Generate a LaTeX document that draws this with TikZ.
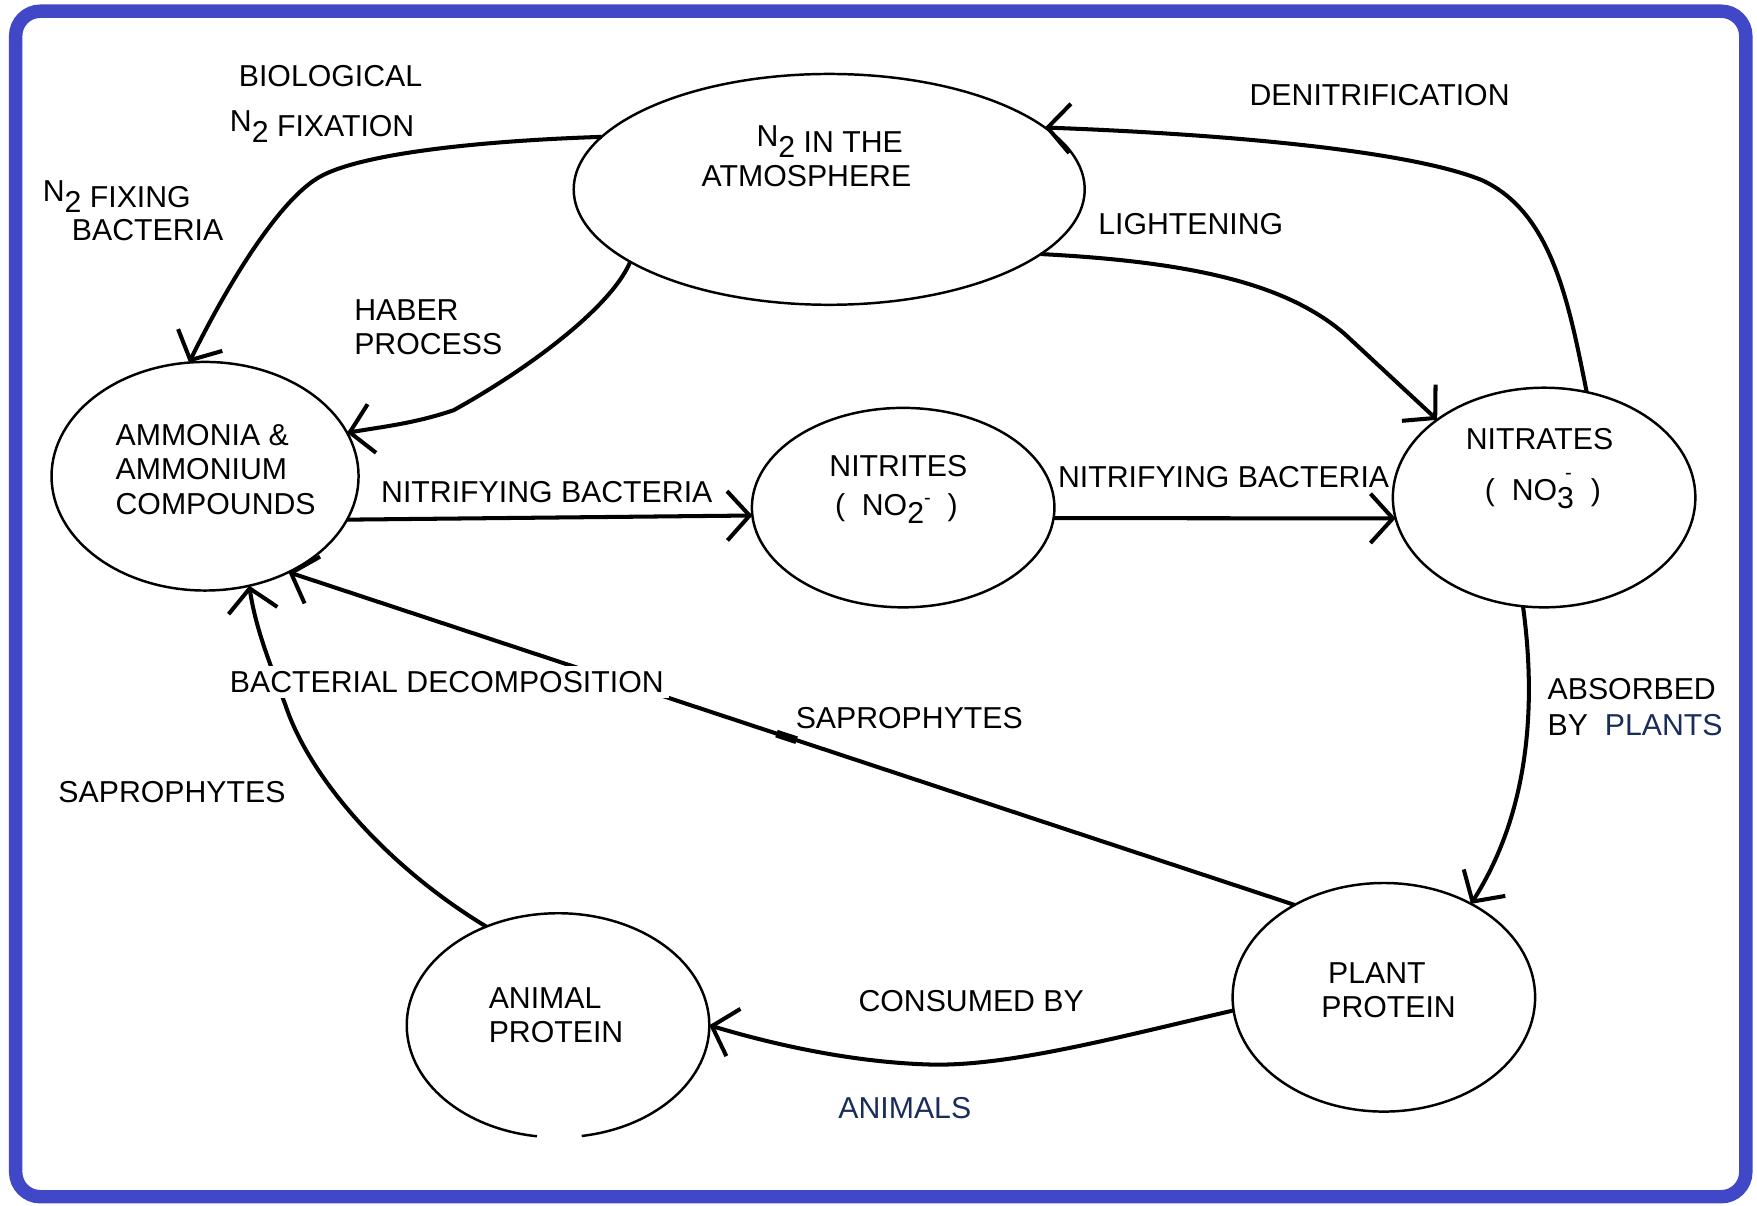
\documentclass[tikz,border=0pt]{standalone}
\usepackage{fontspec}
\setmainfont{Liberation Sans}
\usetikzlibrary{arrows.meta,shapes.geometric,calc}
\definecolor{framecol}{RGB}{64,72,200}
\definecolor{navytext}{RGB}{26,44,92}

% N with a lowered 2, as in N2
\newcommand{\Ntwo}{\raisebox{5pt}{N}\raisebox{-5pt}{2}}
% small raised minus sign of an ion
\newcommand{\ionminus}{\fontsize{18}{18}\selectfont -}

\begin{document}
\begin{tikzpicture}[x=1pt,y=-1pt,
  cell/.style={draw, ellipse, line width=2.2pt, inner sep=0pt, outer sep=0pt},
  flow/.style={line width=3.6pt, -{Straight Barb[length=20pt,width=44pt]}},
  lbl/.style={font=\fontsize{27}{30}\selectfont, inner sep=0pt, anchor=base west},
]
\useasboundingbox (0,0) rectangle (1568,1076);

% outer frame
\draw[line width=12pt, framecol, rounded corners=22pt] (14,10) rectangle (1558,1068);

% pools of nitrogen
\node[cell, minimum width=456pt, minimum height=206pt] (atm) at (740,169) {};
\node[cell, minimum width=274pt, minimum height=204pt] (amm) at (183,425) {};
\node[cell, minimum width=270pt, minimum height=178pt] (nii) at (806,453) {};
\node[cell, minimum width=270pt, minimum height=196pt] (nia) at (1378,444) {};
\node[cell, minimum width=270pt, minimum height=204pt] (plant) at (1235,890) {};
\node[cell, draw=none, minimum width=270pt, minimum height=200pt] (animal) at (498,915) {};
% animal pool outline, open at the bottom
\draw[line width=2.2pt] (animal.center) ++(-81:135pt and 100pt)
  arc[start angle=-81, end angle=262, x radius=135pt, y radius=100pt];

% transfers
\draw[flow] (atm.167) .. controls (420,126) and (320,138) .. (285,158)
  .. controls (250,178) and (205,250) .. (amm.98);
\draw[flow] (atm.200) .. controls (545,275) and (470,330) .. (405,366)
  .. controls (370,378) and (340,381) .. (amm.17);
\draw[flow] (amm.-17) -- (nii.183);
\draw[flow] (nii.-4) -- (nia.188);
\draw[flow] (atm.-17) .. controls (1070,234) and (1150,255) .. (1200,298) -- (nia.144);
\draw[flow] (nia.68) .. controls (1400,270) and (1385,190) .. (1323,161)
  .. controls (1260,135) and (1100,120) .. (atm.16);
\draw[flow] (nia.-101) .. controls (1370,620) and (1368,720) .. (plant.47);
\draw[flow] (plant.185) .. controls (1000,925) and (900,952) .. (830,950)
  .. controls (760,948) and (690,932) .. (animal.0);
\draw[flow] (plant.134) -- (amm.-49);
% thickened stretch along the plant-to-ammonia line
\draw[line width=7pt] ($(plant.134)!0.495!(amm.-49)$) -- ($(plant.134)!0.515!(amm.-49)$);
\draw[flow] (animal.126) .. controls (340,770) and (275,690) .. (255,630)
  .. controls (240,590) and (228,560) .. (amm.-68);

% labels
\node[lbl] (bio1) at (213,77) {BIOLOGICAL};
\node[lbl] (bio2) at (205,122) {\Ntwo{} FIXATION};
\node[lbl] (fix1) at (38,185) {\Ntwo{} FIXING};
\node[lbl] (fix2) at (64,215) {BACTERIA};
\node[lbl] (hab1) at (316,286) {HABER};
\node[lbl] (hab2) at (316,316) {PROCESS};
\node[lbl] (atm1) at (675,136) {\Ntwo{} IN THE};
\node[lbl] (atm2) at (626,166) {ATMOSPHERE};
\node[lbl] (lig) at (980,209) {LIGHTENING};
\node[lbl] (den) at (1115,94) {DENITRIFICATION};
\node[lbl] (amm1) at (103,398) {AMMONIA \&};
\node[lbl] (amm2) at (103,428) {AMMONIUM};
\node[lbl] (amm3) at (103,459) {COMPOUNDS};
\node[lbl] (nb1) at (340,448) {NITRIFYING BACTERIA};
\node[lbl] (nii1) at (740,425) {NITRITES};
\node[lbl] (nii2) at (745,460) {(\ \ NO\raisebox{-7pt}{2}\raisebox{10pt}{\ionminus}\ \ )};
\node[lbl] (nb2) at (944,435) {NITRIFYING BACTERIA};
\node[lbl] (nia1) at (1308,401) {NITRATES};
\node[lbl] (nia2) at (1325,447) {(\ \ NO\rlap{\kern7pt\raisebox{19pt}{\ionminus}}\raisebox{-7pt}{3}\ \ )};
\node[lbl, fill=white, inner sep=5pt] (bd) at (200,618) {BACTERIAL DECOMPOSITION};
\node[lbl] (sap1) at (710,650) {SAPROPHYTES};
\node[lbl] (sap2) at (52,716) {SAPROPHYTES};
\node[lbl] (abs1) at (1381,624) {ABSORBED};
\node[lbl] (abs2) at (1381,656) {BY\ \ \textcolor{navytext}{PLANTS}};
\node[lbl] (pp1) at (1185,878) {PLANT};
\node[lbl] (pp2) at (1179,908) {PROTEIN};
\node[lbl] (ap1) at (436,900) {ANIMAL};
\node[lbl] (ap2) at (436,930) {PROTEIN};
\node[lbl] (cons) at (766,903) {CONSUMED BY};
\node[lbl, text=navytext] (anim) at (748,998) {ANIMALS};
\end{tikzpicture}
\end{document}
